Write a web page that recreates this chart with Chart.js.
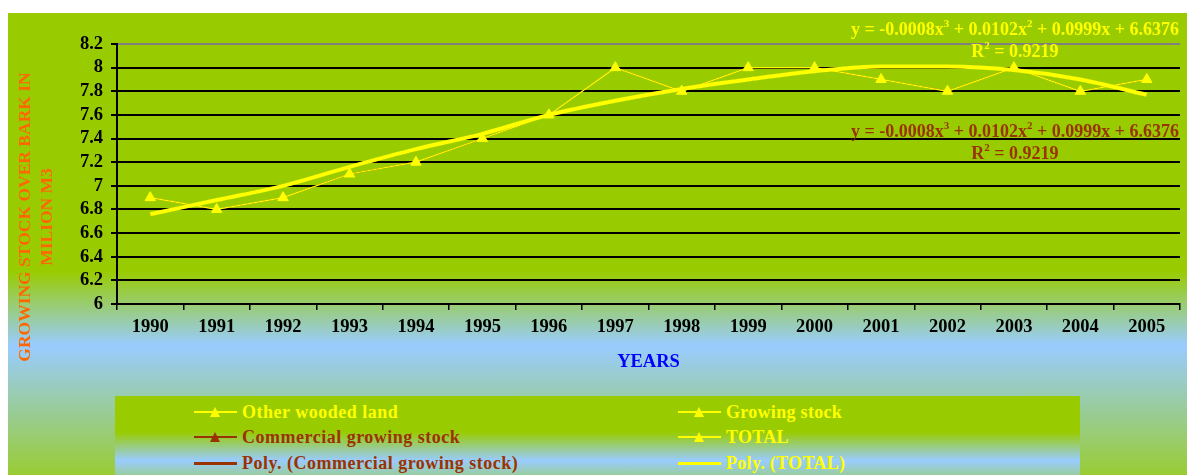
<!DOCTYPE html>
<html>
<head>
<meta charset="utf-8">
<script src="https://cdn.jsdelivr.net/npm/chart.js@4.4.1/dist/chart.umd.min.js"></script>
<style>
html, body { margin: 0; padding: 0; width: 1187px; height: 475px; overflow: hidden; background: #fff; font-family: "Liberation Serif", "Times New Roman", serif; }
#bg { position: absolute; left: 8px; top: 13px; width: 1179px; height: 462px;
  background: linear-gradient(to bottom, #99cc00 0%, #99cc00 56%, #99ccff 72%, #99cc33 100%); }
#chart { position: absolute; left: 0; top: 0; }
.ytitle { position: absolute; left: 35px; top: 217px; width: 320px; transform: translate(-50%, -50%) rotate(-90deg);
  color: #ff6600; font-weight: bold; font-size: 17.5px; line-height: 22px; text-align: center; white-space: nowrap; }
.eq { position: absolute; left: 835px; width: 360px; text-align: center; font-weight: bold; font-size: 18px; line-height: 22px; white-space: nowrap; }
.eq sup { font-size: 11px; line-height: 0; vertical-align: 0; position: relative; top: -8px; }
#legend { position: absolute; left: 115px; top: 396px; width: 965px; height: 95px;
  background: linear-gradient(to bottom, #99cc00 0%, #99cc00 38%, #99ccff 68%, #99cc33 100%); }
.item { position: absolute; height: 22px; display: flex; align-items: center; font-weight: bold; font-size: 18px; white-space: nowrap; }
.samp { position: relative; width: 43px; height: 22px; margin-right: 5px; }
.samp .ln { position: absolute; left: 0; right: 0; }
.samp .tri { position: absolute; left: 16px; top: 6px; width: 0; height: 0; border-left: 5.5px solid transparent; border-right: 5.5px solid transparent; border-bottom-width: 10px; border-bottom-style: solid; }
</style>
</head>
<body>
<div id="bg"></div>
<canvas id="chart" width="1187" height="475"></canvas>
<div class="ytitle">GROWING STOCK OVER BARK IN<br>MILION M3</div>
<div class="eq" style="top:18px;color:#ffff00">y = -0.0008x<sup>3</sup> + 0.0102x<sup>2</sup> + 0.0999x + 6.6376<br>R<sup>2</sup> = 0.9219</div>
<div class="eq" style="top:120px;color:#993300">y = -0.0008x<sup>3</sup> + 0.0102x<sup>2</sup> + 0.0999x + 6.6376<br>R<sup>2</sup> = 0.9219</div>
<div id="legend"></div>
<script>
// Chart data
const years = ['1990', '1991', '1992', '1993', '1994', '1995', '1996', '1997',
               '1998', '1999', '2000', '2001', '2002', '2003', '2004', '2005'];
const yTicks = [6, 6.2, 6.4, 6.6, 6.8, 7, 7.2, 7.4, 7.6, 7.8, 8, 8.2];

const totalValues      = [6.9, 6.8, 6.9, 7.1, 7.2, 7.4, 7.6, 8.0, 7.8, 8.0, 8.0, 7.9, 7.8, 8.0, 7.8, 7.9];
const commercialValues = [6.9, 6.8, 6.9, 7.1, 7.2, 7.4, 7.6, 8.0, 7.8, 8.0, 8.0, 7.9, 7.8, 8.0, 7.8, 7.9];
const polyTotal        = [6.76, 6.88, 7.0, 7.16, 7.31, 7.44, 7.6, 7.72, 7.82, 7.9, 7.97, 8.01, 8.01, 7.98, 7.9, 7.77];
const polyCommercial   = [6.76, 6.88, 7.0, 7.16, 7.31, 7.44, 7.6, 7.72, 7.82, 7.9, 7.97, 8.01, 8.01, 7.98, 7.9, 7.77];

const legendNames = ['Other wooded land', 'Growing stock', 'Commercial growing stock', 'TOTAL',
                     'Poly. (Commercial growing stock)', 'Poly. (TOTAL)'];

const YELLOW = '#ffff00';
const BROWN = '#993300';
const FONT = 'Liberation Serif, Times New Roman, serif';

Chart.defaults.font.family = FONT;

// Legend (two columns, three rows)
const legendStyle = [
    { color: YELLOW, marker: true,  thick: false },
    { color: YELLOW, marker: true,  thick: false },
    { color: BROWN,  marker: true,  thick: false },
    { color: YELLOW, marker: true,  thick: false },
    { color: BROWN,  marker: false, thick: true },
    { color: YELLOW, marker: false, thick: true }
];
const legendBox = document.getElementById('legend');
legendNames.forEach((name, i) => {
    const st = legendStyle[i];
    const col = i % 2, row = Math.floor(i / 2);
    const rowY = [16, 41, 67][row];
    const div = document.createElement('div');
    div.className = 'item';
    div.style.left = (col === 0 ? 79 : 563) + 'px';
    div.style.top = (rowY - 11) + 'px';
    div.style.color = st.color;
    div.style.letterSpacing = col === 0 ? '0.5px' : '0.3px';
    const lh = st.thick ? 3 : 1.5;
    div.innerHTML = `
        <span class="samp">
            <span class="ln" style="top:${11 - lh / 2}px;height:${lh}px;background:${st.color}"></span>
            ${st.marker ? `<span class="tri" style="border-bottom-color:${st.color}"></span>` : ''}
        </span>${name}`;
    legendBox.appendChild(div);
});

const tickFont = { family: FONT, size: 18.5, weight: 'bold' };

new Chart(document.getElementById('chart'), {
    type: 'line',
    data: {
        labels: years,
        datasets: [
            {
                label: 'Poly. (TOTAL)',
                data: polyTotal,
                borderColor: YELLOW,
                borderWidth: 4,
                pointRadius: 0,
                cubicInterpolationMode: 'monotone'
            },
            {
                label: 'TOTAL',
                data: totalValues,
                borderColor: YELLOW,
                backgroundColor: YELLOW,
                borderWidth: 1.2,
                pointStyle: 'triangle',
                pointRadius: 6,
                pointBorderWidth: 1,
                pointBorderColor: YELLOW,
                pointBackgroundColor: YELLOW
            },
            {
                label: 'Poly. (Commercial growing stock)',
                data: polyCommercial,
                borderColor: BROWN,
                borderWidth: 3,
                pointRadius: 0,
                cubicInterpolationMode: 'monotone'
            },
            {
                label: 'Commercial growing stock',
                data: commercialValues,
                borderColor: BROWN,
                backgroundColor: BROWN,
                borderWidth: 1,
                pointStyle: 'triangle',
                pointRadius: 5,
                pointBorderWidth: 0,
                pointBackgroundColor: BROWN
            }
        ]
    },
    options: {
        responsive: false,
        animation: false,
        devicePixelRatio: 1,
        layout: { padding: { left: 8, top: 44, right: 0, bottom: 91 } },
        plugins: {
            legend: { display: false },
            tooltip: { enabled: false }
        },
        scales: {
            x: {
                offset: true,
                grid: { offset: true, drawOnChartArea: false, drawTicks: true, tickLength: 6, color: '#000', lineWidth: 1.5 },
                border: { color: '#000', width: 2 },
                ticks: { color: '#000', font: tickFont, padding: 6, maxRotation: 0, autoSkip: false },
                title: {
                    display: true, text: 'YEARS', color: '#0000ff',
                    font: { family: FONT, size: 18.5, weight: 'bold' },
                    padding: { top: 0, bottom: 11 }
                },
                afterFit(scale) { scale.height = 80; }
            },
            y: {
                min: 6,
                max: 8.2,
                afterBuildTicks(scale) { scale.ticks = yTicks.map(v => ({ value: v })); },
                grid: {
                    color: ctx => (ctx.tick && ctx.tick.value === 8.2 ? '#808080' : '#000'),
                    tickColor: '#000',
                    lineWidth: 2,
                    tickLength: 6
                },
                border: { color: '#000', width: 2 },
                ticks: {
                    color: '#000',
                    font: tickFont,
                    padding: 8,
                    autoSkip: false,
                    callback: v => String(Math.round(v * 10) / 10)
                },
                afterFit(scale) { scale.width = 109; }
            }
        }
    }
});
</script>
</body>
</html>
